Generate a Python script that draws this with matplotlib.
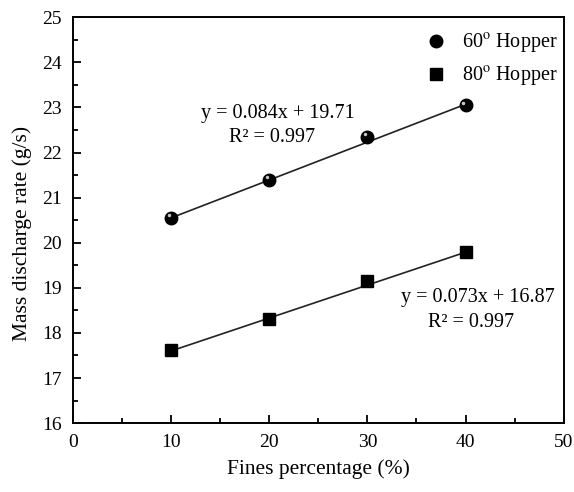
import numpy as np
import matplotlib
matplotlib.use("Agg")
import matplotlib.pyplot as plt
import matplotlib.transforms as mtransforms
from matplotlib.ticker import MultipleLocator
from matplotlib.lines import Line2D

plt.rcParams['font.family'] = ['Liberation Serif', 'DejaVu Serif']
plt.rcParams['mathtext.fontset'] = 'stix'

fines = np.array([10, 20, 30, 40])
rate_60 = np.array([20.55, 21.40, 22.35, 23.05])
rate_80 = np.array([17.62, 18.30, 19.15, 19.80])
fit_60 = (0.084, 19.71)
fit_80 = (0.073, 16.87)
labels = ["60$^{\\rm o}$ Hopper", "80$^{\\rm o}$ Hopper"]

fig = plt.figure(figsize=(5.74, 4.92), dpi=100)
ax = fig.add_axes([0.127, 0.140, 0.855, 0.825])

xs = np.array([fines.min(), fines.max()])
ax.plot(xs, fit_60[0] * xs + fit_60[1], color='#222222', lw=1.2, zorder=2)
ax.plot(xs, fit_80[0] * xs + fit_80[1], color='#222222', lw=1.2, zorder=2)

ax.plot(fines, rate_60, 'o', color='black', ms=9, zorder=3)
# little highlight to mimic the shaded sphere marker
shift = mtransforms.ScaledTranslation(-1.8 / 72, 1.8 / 72, fig.dpi_scale_trans)
ax.plot(fines, rate_60, 'o', color='#c8c8c8', ms=2.5, mec='none', zorder=4,
        transform=ax.transData + shift)
ax.plot(fines, rate_80, 's', color='black', ms=8, zorder=3)

ax.text(13.1, 22.87, "y = 0.084x + 19.71", fontsize=14.5, va='center')
ax.text(15.9, 22.34, "R² = 0.997", fontsize=14.5, va='center')
ax.text(33.4, 18.79, "y = 0.073x + 16.87", fontsize=14.5, va='center')
ax.text(36.2, 18.24, "R² = 0.997", fontsize=14.5, va='center')

h60 = Line2D([], [], marker='o', color='black', ms=9, ls='none')
h80 = Line2D([], [], marker='s', color='black', ms=8, ls='none')
ax.legend([h60, h80], labels, loc='upper right', frameon=False, fontsize=14.5,
          handletextpad=0.3, labelspacing=0.5, borderaxespad=0.0,
          bbox_to_anchor=(1.005, 0.985))

ax.set_xlim(0, 50)
ax.set_ylim(16, 25)
ax.xaxis.set_major_locator(MultipleLocator(10))
ax.xaxis.set_minor_locator(MultipleLocator(5))
ax.yaxis.set_major_locator(MultipleLocator(1))
ax.yaxis.set_minor_locator(MultipleLocator(0.5))
ax.tick_params(which='both', direction='in', width=1.3, labelsize=14, pad=8)
ax.tick_params(which='major', length=6)
ax.tick_params(which='minor', length=3.5)
for s in ax.spines.values():
    s.set_linewidth(1.4)

ax.set_xlabel("Fines percentage (%)", fontsize=15.5, labelpad=6)
ax.set_ylabel("Mass discharge rate (g/s)", fontsize=15.5)
ax.yaxis.set_label_coords(-0.083, 0.468)

fig.savefig("out.png", dpi=100)
